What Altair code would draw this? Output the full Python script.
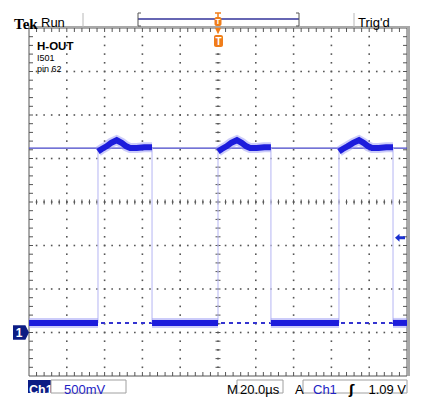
import altair as alt
import numpy as np
import pandas as pd

# ---------------- data (read from the screen) ----------------
# time in microseconds (20 us/div, trigger at centre), voltage in V (500 mV/div, ground 3 div below centre)
t_domain = [-100, 100]
v_domain = [-0.5, 3.5]

rise_t = [-63.5, 0.0, 64.0]
fall_t = [-34.9, 28.0, 92.6]
low_level = 0.11
high_level = 2.12
trig_level = 1.09
ground_level = 0.0
centre_level = 1.5
centre_time = 0.0

low1_t = [-100, -82, -63.5]
low1_v = [0.11, 0.11, 0.11]
high1_t = [-63.5, -61.5, -59.0, -56.5, -53.6, -51.0, -48.5, -46.5, -43.0, -39.0, -34.9]
high1_v = [2.08, 2.11, 2.14, 2.18, 2.21, 2.18, 2.14, 2.12, 2.12, 2.13, 2.13]
low2_t = [-34.9, -17, 0.0]
low2_v = [0.11, 0.11, 0.11]
high2_t = [0.0, 2.0, 4.5, 7.0, 10.0, 12.5, 15.0, 17.0, 20.5, 24.5, 28.0]
high2_v = [2.08, 2.11, 2.14, 2.18, 2.21, 2.18, 2.14, 2.12, 2.12, 2.13, 2.13]
low3_t = [28.0, 46, 64.0]
low3_v = [0.11, 0.11, 0.11]
high3_t = [64.0, 66.0, 68.5, 71.5, 74.6, 77.0, 79.5, 81.5, 85.0, 89.0, 92.6]
high3_v = [2.08, 2.11, 2.14, 2.18, 2.21, 2.18, 2.14, 2.12, 2.12, 2.13, 2.13]
low4_t = [92.6, 100]
low4_v = [0.11, 0.11]

segments = [(low1_t, low1_v), (high1_t, high1_v), (low2_t, low2_v), (high2_t, high2_v),
            (low3_t, low3_v), (high3_t, high3_v), (low4_t, low4_v)]

grid_t = [-80, -60, -40, -20, 0, 20, 40, 60, 80]
grid_v = [0.0, 0.5, 1.0, 1.5, 2.0, 2.5, 3.0]
minor_t = [round(float(x), 3) for x in np.arange(-96, 100, 4)]
minor_v = [round(float(x), 3) for x in np.arange(-0.4, 3.45, 0.1)]

# ---------------- tables ----------------
trace = pd.DataFrame(
    [{"seg": i, "t": t, "v": v} for i, (ts, vs) in enumerate(segments) for t, v in zip(ts, vs)]
)
edges = pd.DataFrame({"t": rise_t + fall_t, "v1": low_level, "v2": high_level})
# graticule dots: along every major line, one dot per minor division
dots = pd.DataFrame(
    [{"t": t, "v": v} for t in grid_t for v in minor_v]
    + [{"t": t, "v": v} for v in grid_v for t in minor_t]
)
mt = pd.DataFrame({"t": minor_t, "c": centre_level})
mv = pd.DataFrame({"v": minor_v, "c": centre_time})
lowdf = pd.DataFrame({"v": [low_level]})
highdf = pd.DataFrame({"v": [high_level]})
gnd = pd.DataFrame({"v": [ground_level]})
trg = pd.DataFrame({"v": [trig_level]})
one = pd.DataFrame({"k": [0]})

W, H = 378, 348
xs = alt.Scale(domain=t_domain, nice=False, zero=False)
ys = alt.Scale(domain=v_domain, nice=False, zero=False)


def X(f):
    return alt.X(f, type="quantitative", scale=xs, axis=None)


def Y(f):
    return alt.Y(f, type="quantitative", scale=ys, axis=None)


GRID = "#555555"
BLUE = "#1c1cdc"
ORANGE = "#f07d1a"
FRAME = "#a8a8a8"
SANS = "Liberation Sans, Arial, sans-serif"

layers = []

# graticule dots
layers.append(alt.Chart(dots).mark_square(size=2.6, color=GRID, opacity=1, filled=True).encode(
    x=X("t"), y=Y("v")))
# centre-line ticks
layers.append(alt.Chart(mt).mark_rule(color=GRID, strokeWidth=1, yOffset=-2.5, y2Offset=2.5).encode(
    x=X("t"), y=Y("c"), y2=alt.Y2("c")))
layers.append(alt.Chart(mv).mark_rule(color=GRID, strokeWidth=1, xOffset=-2.5, x2Offset=2.5).encode(
    y=Y("v"), x=X("c"), x2=alt.X2("c")))
# border ticks
layers.append(alt.Chart(mt).mark_rule(color=GRID, strokeWidth=1).encode(
    x=X("t"), y=alt.value(0), y2=alt.value(4)))
layers.append(alt.Chart(mt).mark_rule(color=GRID, strokeWidth=1).encode(
    x=X("t"), y=alt.value(H - 4), y2=alt.value(H)))
layers.append(alt.Chart(mv).mark_rule(color=GRID, strokeWidth=1).encode(
    y=Y("v"), x=alt.value(0), x2=alt.value(4)))
layers.append(alt.Chart(mv).mark_rule(color=GRID, strokeWidth=1).encode(
    y=Y("v"), x=alt.value(W - 4), x2=alt.value(W)))
# frame
layers.append(alt.Chart(one).mark_rect(fillOpacity=0, stroke=GRID, strokeWidth=1).encode(
    x=alt.value(0), x2=alt.value(W), y=alt.value(0), y2=alt.value(H)))
layers.append(alt.Chart(one).mark_rule(color=FRAME, strokeWidth=2).encode(
    x=alt.value(-1), x2=alt.value(W + 3), y=alt.value(-1)))
layers.append(alt.Chart(one).mark_rule(color=FRAME, strokeWidth=3).encode(
    x=alt.value(W + 1.5), y=alt.value(-1), y2=alt.value(H)))

# reference lines of the trace
layers.append(alt.Chart(lowdf).mark_rule(color="#3434d0", strokeWidth=2, strokeDash=[4, 4]).encode(
    y=Y("v"), x=alt.value(0), x2=alt.value(W)))
layers.append(alt.Chart(highdf).mark_rule(color="#4444c8", strokeWidth=1.3).encode(
    y=Y("v"), x=alt.value(0), x2=alt.value(W)))
# faint edges
layers.append(alt.Chart(edges).mark_rule(color="#c6c6f6", strokeWidth=1.3).encode(
    x=X("t"), y=Y("v1"), y2=alt.Y2("v2")))
# trace band
layers.append(alt.Chart(trace).mark_line(color="#9a9af6", strokeWidth=10, opacity=0.5).encode(
    x=X("t"), y=Y("v"), detail="seg:N"))
layers.append(alt.Chart(trace).mark_line(color=BLUE, strokeWidth=6).encode(
    x=X("t"), y=Y("v"), detail="seg:N"))

# ground marker "1"
layers.append(alt.Chart(gnd).mark_point(
    shape="M-1,-0.9 L0.55,-0.9 L1,0 L0.55,0.9 L-1,0.9 Z", size=256, filled=True, opacity=1,
    color="#0c1c84").encode(x=alt.value(-8), y=Y("v")))
layers.append(alt.Chart(gnd).mark_text(text="1", color="white", fontSize=12, fontWeight="bold",
                                       font="Liberation Sans", baseline="middle").encode(
    x=alt.value(-10), y=Y("v")))
# trigger level arrow
layers.append(alt.Chart(trg).mark_point(
    shape="M-1,0 L-0.1,-0.8 L-0.1,-0.3 L1,-0.3 L1,0.3 L-0.1,0.3 L-0.1,0.8 Z", size=100,
    filled=True, opacity=1, color="#1a2fd0").encode(x=alt.value(371), y=Y("v")))

# trigger position marker inside the screen
layers.append(alt.Chart(one).mark_point(shape="M-1,-1 L1,-1 L0,1 Z", size=40, filled=True, opacity=1,
                                        color=ORANGE).encode(x=alt.value(189), y=alt.value(3)))
layers.append(alt.Chart(one).mark_rect(color=ORANGE, cornerRadius=2).encode(
    x=alt.value(185), x2=alt.value(194), y=alt.value(7), y2=alt.value(19)))
layers.append(alt.Chart(one).mark_text(text="T", color="white", fontSize=10, fontWeight="bold",
                                       font="Liberation Sans", baseline="middle").encode(
    x=alt.value(189.5), y=alt.value(13.5)))

# labels on the screen
layers.append(alt.Chart(one).mark_text(text="H-OUT", fontSize=11.5, fontWeight="bold", font=SANS,
                                       align="left", color="black").encode(x=alt.value(8), y=alt.value(19)))
layers.append(alt.Chart(one).mark_text(text="I501", fontSize=9, font=SANS, align="left",
                                       color="black").encode(x=alt.value(8), y=alt.value(30)))
layers.append(alt.Chart(one).mark_text(text="pin 62", fontSize=9, font=SANS, align="left",
                                       color="black").encode(x=alt.value(8), y=alt.value(41)))

# ---- header ----
layers.append(alt.Chart(one).mark_text(text="Tek", fontSize=15, fontWeight="bold", font="Liberation Serif",
                                       align="left", color="black").encode(x=alt.value(-15), y=alt.value(-4)))
layers.append(alt.Chart(one).mark_text(text="Run", fontSize=13, font=SANS, align="left",
                                       color="black").encode(x=alt.value(12), y=alt.value(-5)))
layers.append(alt.Chart(one).mark_text(text="Trig'd", fontSize=13, font=SANS, align="left",
                                       color="black").encode(x=alt.value(329), y=alt.value(-5)))
for sx in [54, 325]:
    layers.append(alt.Chart(one).mark_rule(color="#b8b8b8", strokeWidth=1).encode(
        x=alt.value(sx), y=alt.value(-15), y2=alt.value(-1)))
# record-length bar
layers.append(alt.Chart(one).mark_rule(color="#33339a", strokeWidth=1.3).encode(
    x=alt.value(109), x2=alt.value(270), y=alt.value(-9)))
for bx, tip in [(109, 112), (270, 267)]:
    layers.append(alt.Chart(one).mark_rule(color="#555555", strokeWidth=1).encode(
        x=alt.value(bx), y=alt.value(-15), y2=alt.value(-2)))
    layers.append(alt.Chart(one).mark_rule(color="#555555", strokeWidth=1).encode(
        x=alt.value(bx), x2=alt.value(tip), y=alt.value(-15)))
    layers.append(alt.Chart(one).mark_rule(color="#555555", strokeWidth=1).encode(
        x=alt.value(bx), x2=alt.value(tip), y=alt.value(-2)))
layers.append(alt.Chart(one).mark_rule(color=ORANGE, strokeWidth=1.5).encode(
    x=alt.value(186), x2=alt.value(192), y=alt.value(-15)))
layers.append(alt.Chart(one).mark_rule(color=ORANGE, strokeWidth=1.5).encode(
    x=alt.value(189), y=alt.value(-15), y2=alt.value(-11)))
layers.append(alt.Chart(one).mark_rect(color=ORANGE, cornerRadius=2).encode(
    x=alt.value(185.5), x2=alt.value(192.5), y=alt.value(-11), y2=alt.value(-2)))
layers.append(alt.Chart(one).mark_text(text="T", color="white", fontSize=8, fontWeight="bold",
                                       font="Liberation Sans", baseline="middle").encode(
    x=alt.value(189), y=alt.value(-6)))

# ---- status line ----
SY0, SY1 = 352, 365
TB = 362
layers.append(alt.Chart(one).mark_rect(color="#0c1c84").encode(
    x=alt.value(-1), x2=alt.value(22), y=alt.value(SY0), y2=alt.value(SY1)))
layers.append(alt.Chart(one).mark_text(text="Ch1", color="white", fontSize=12.5, fontWeight="bold", font=SANS,
                                       align="left").encode(x=alt.value(0), y=alt.value(TB)))
for bx0, bx1 in [(22, 97), (208, 254), (274, 378)]:
    layers.append(alt.Chart(one).mark_rect(fillOpacity=0, stroke="#a0a0a0", strokeWidth=1).encode(
        x=alt.value(bx0), x2=alt.value(bx1), y=alt.value(SY0), y2=alt.value(SY1)))
layers.append(alt.Chart(one).mark_text(text="500mV", color="#2222c4", fontSize=13, font=SANS,
                                       align="left").encode(x=alt.value(35), y=alt.value(TB)))
layers.append(alt.Chart(one).mark_text(text="M", color="black", fontSize=13, font=SANS,
                                       align="left").encode(x=alt.value(198), y=alt.value(TB)))
layers.append(alt.Chart(one).mark_text(text="20.0µs", color="black", fontSize=13, font=SANS,
                                       align="left").encode(x=alt.value(211), y=alt.value(TB)))
layers.append(alt.Chart(one).mark_text(text="A", color="black", fontSize=13, font=SANS,
                                       align="left").encode(x=alt.value(266), y=alt.value(TB)))
layers.append(alt.Chart(one).mark_text(text="Ch1", color="#2222c4", fontSize=13, font=SANS,
                                       align="left").encode(x=alt.value(284), y=alt.value(TB)))
layers.append(alt.Chart(one).mark_text(text="ʃ", color="black", fontSize=13, fontWeight="bold",
                                       font="DejaVu Sans", align="left").encode(x=alt.value(320), y=alt.value(TB)))
layers.append(alt.Chart(one).mark_text(text="1.09 V", color="black", fontSize=13, font=SANS,
                                       align="right").encode(x=alt.value(377), y=alt.value(TB)))

chart = alt.layer(*layers).properties(
    width=W, height=H,
    padding={"left": 21, "top": 20, "right": 6, "bottom": 21},
    autosize=alt.AutoSizeParams(type="none"),
    background="white",
).configure_view(stroke=None)

chart.save("out.html", embed_options={"renderer": "svg", "actions": False})
